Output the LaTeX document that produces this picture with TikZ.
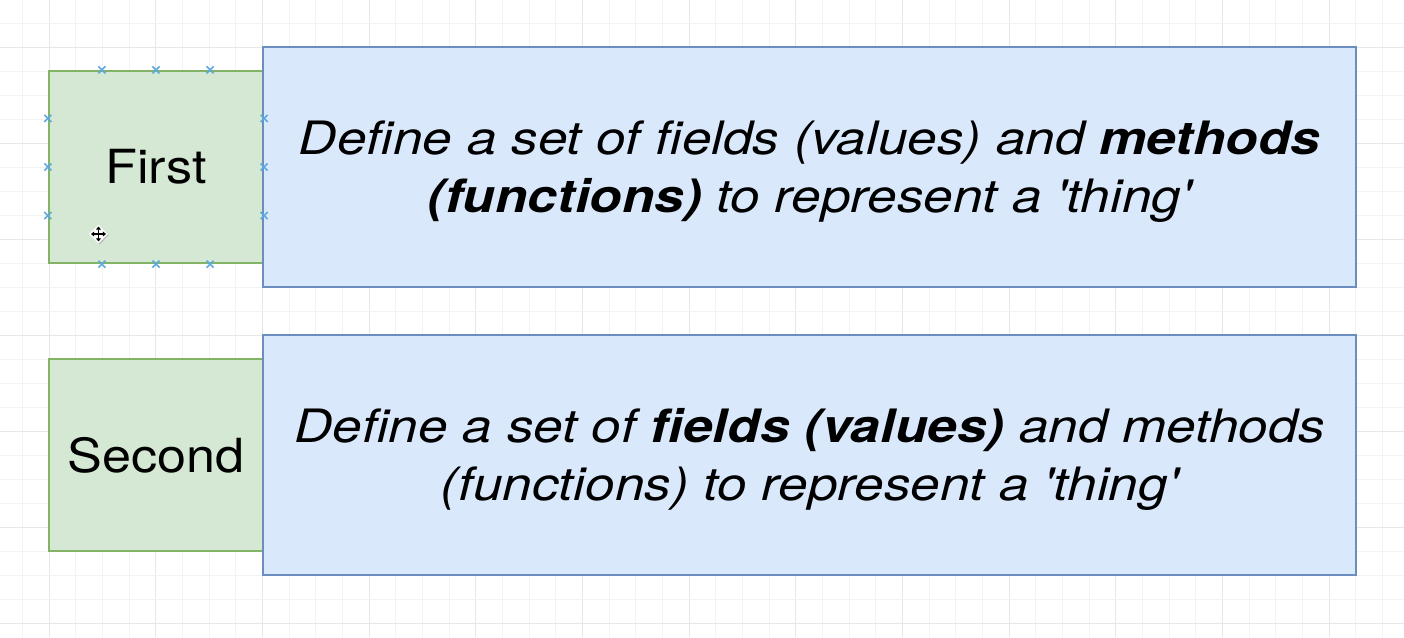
\documentclass[tikz,border=0pt]{standalone}
\usepackage{fontspec}
\setmainfont{TeX Gyre Heros}[Ligatures=TeXOff]
\usetikzlibrary{arrows.meta,calc}

\definecolor{gridminor}{HTML}{F3F3F3}
\definecolor{gridmajor}{HTML}{E7E7E7}
\definecolor{greenfill}{HTML}{D5E8D4}
\definecolor{greenline}{HTML}{82B366}
\definecolor{bluefill}{HTML}{DAE8FC}
\definecolor{blueline}{HTML}{6C8EBF}
\definecolor{handle}{HTML}{5DA9DD}

% horizontal stretch applied to the texts
\newcommand{\wide}[2][1.11]{\scalebox{#1}[1]{#2}}
\newcommand{\bodytext}[2]{\raisebox{-5pt}[\height][\depth]{\wide[1.155]{\begin{tabular}{@{}c@{}}#1\\#2\end{tabular}}}}

\tikzset{
  labelbox/.style={draw=greenline, fill=greenfill, line width=2.2pt,
    minimum width=214pt, minimum height=192pt, inner sep=0pt,
    font=\fontsize{47}{56}\selectfont},
  textbox/.style={draw=blueline, fill=bluefill, line width=2.4pt,
    minimum width=1093pt, minimum height=240pt, inner sep=0pt,
    font=\fontsize{46}{58}\selectfont\itshape},
  handlemark/.style={draw=handle, line width=1.6pt},
}

\begin{document}
\begin{tikzpicture}[x=1pt,y=-1pt]
  % canvas
  \fill[white] (0,0) rectangle (1404,637);
  \useasboundingbox (0,0) rectangle (1404,637);

  % background grid
  \foreach \k in {-1,...,50} {
    \pgfmathtruncatemacro{\m}{mod(\k+8,4)}
    \ifnum\m=0 \def\gc{gridmajor}\else\def\gc{gridminor}\fi
    \draw[\gc, line width=1pt] ({49+26.67*\k},0) -- ({49+26.67*\k},637);
  }
  \foreach \k in {1,...,26} {
    \pgfmathtruncatemacro{\m}{mod(\k+2,4)}
    \ifnum\m=0 \def\gc{gridmajor}\else\def\gc{gridminor}\fi
    \draw[\gc, line width=1pt] (0,{-1+24*\k}) -- (1404,{-1+24*\k});
  }

  % labels on the left
  \node[labelbox] (first)  at (156,167) {\wide{First}};
  \node[labelbox] (second) at (156,455) {\wide{Second}};

  % descriptions on the right
  \node[textbox] (desc1) at (809.5,167) {\bodytext
      {Define a set of fields (values) and \textbf{methods}}
      {\textbf{(functions)} to represent a 'thing'}};
  \node[textbox] (desc2) at (809.5,455) {\bodytext
      {Define a set of \textbf{fields (values)} and methods}
      {(functions) to represent a 'thing'}};

  % selection handles around the first label
  \foreach \t in {0.25,0.5,0.75} {
    \coordinate (hn) at ($(first.north west)!\t!(first.north east)$);
    \coordinate (hs) at ($(first.south west)!\t!(first.south east)$);
    \coordinate (hw) at ($(first.north west)!\t!(first.south west)$);
    \coordinate (he) at ($(first.north east)!\t!(first.south east)$);
    \foreach \p in {hn,hs,hw,he} {
      \draw[handlemark] ($(\p)+(-3.5,-3.5)$) -- ($(\p)+(3.5,3.5)$)
                        ($(\p)+(-3.5,3.5)$) -- ($(\p)+(3.5,-3.5)$);
    }
  }

  % move cursor
  \begin{scope}[shift={(98.5,234)}]
    \fill[black!30] (1,-8.5) -- (10,1) -- (1,10.5) -- (-8,1) -- cycle;
    \fill[white] (0,-9.5) -- (9.5,0) -- (0,9.5) -- (-9.5,0) -- cycle;
    \draw[line width=1.4pt, {Triangle[length=3.2pt,width=5pt]}-{Triangle[length=3.2pt,width=5pt]}]
      (-7.5,0) -- (7.5,0);
    \draw[line width=1.4pt, {Triangle[length=3.2pt,width=5pt]}-{Triangle[length=3.2pt,width=5pt]}]
      (0,-7.5) -- (0,7.5);
  \end{scope}
\end{tikzpicture}
\end{document}
